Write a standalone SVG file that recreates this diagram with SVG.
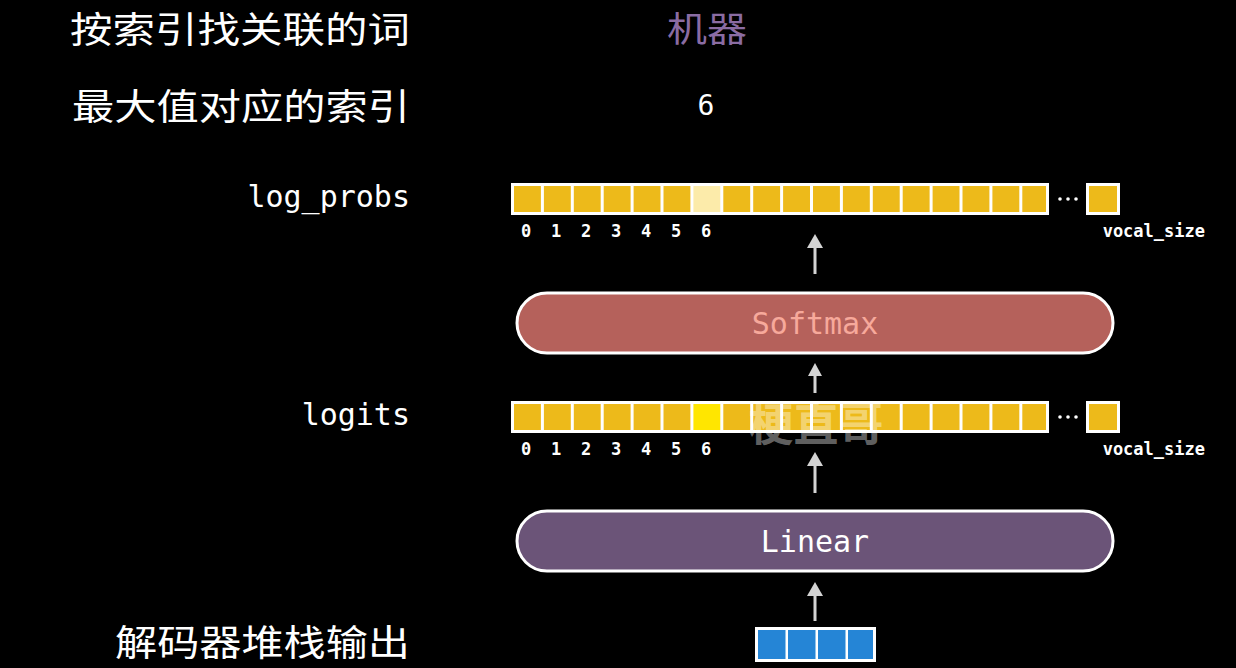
<svg xmlns="http://www.w3.org/2000/svg" width="1236" height="668" viewBox="0 0 1236 668">
<style>
.cn{font-family:"Noto Sans CJK SC","Noto Sans",sans-serif;fill:#ffffff;font-size:36px}
.mono{font-family:"DejaVu Sans Mono","Liberation Mono",monospace;fill:#ffffff}
.lbl{font-size:30px;text-anchor:end}
.dig{font-size:17px;font-weight:bold;text-anchor:middle}
.vs{font-size:17px;font-weight:bold;text-anchor:end}
.cell{fill:#EDBA1A}
.frame{fill:#ffffff}
.arrow line{stroke:#D4D4D4;stroke-width:3}
.arrow polygon{fill:#D4D4D4}
.pill{stroke:#ffffff;stroke-width:3}
.blue{fill:#2585D6}
</style>
<defs>
<g id="cells">
<rect class="frame" x="511" y="0" width="538" height="32"/>
<rect class="cell" x="514" y="3" width="26.9" height="26"/>
<rect class="cell" x="543.9" y="3" width="26.9" height="26"/>
<rect class="cell" x="573.8" y="3" width="26.9" height="26"/>
<rect class="cell" x="603.7" y="3" width="26.9" height="26"/>
<rect class="cell" x="633.6" y="3" width="26.9" height="26"/>
<rect class="cell" x="663.5" y="3" width="26.9" height="26"/>
<rect class="cell" x="723.3" y="3" width="26.9" height="26"/>
<rect class="cell" x="753.2" y="3" width="26.9" height="26"/>
<rect class="cell" x="783.1" y="3" width="26.9" height="26"/>
<rect class="cell" x="813" y="3" width="26.9" height="26"/>
<rect class="cell" x="842.9" y="3" width="26.9" height="26"/>
<rect class="cell" x="872.8" y="3" width="26.9" height="26"/>
<rect class="cell" x="902.7" y="3" width="26.9" height="26"/>
<rect class="cell" x="932.6" y="3" width="26.9" height="26"/>
<rect class="cell" x="962.5" y="3" width="26.9" height="26"/>
<rect class="cell" x="992.4" y="3" width="26.9" height="26"/>
<rect class="cell" x="1022.3" y="3" width="23.7" height="26"/>
<circle cx="1060" cy="16" r="1.8" fill="#ffffff"/>
<circle cx="1068" cy="16" r="1.8" fill="#ffffff"/>
<circle cx="1076" cy="16" r="1.8" fill="#ffffff"/>
<rect class="frame" x="1086" y="0" width="34" height="32"/>
<rect class="cell" x="1089" y="3" width="28" height="26"/>
<g class="mono">
<text class="dig" x="526" y="54">0</text>
<text class="dig" x="556" y="54">1</text>
<text class="dig" x="586" y="54">2</text>
<text class="dig" x="616" y="54">3</text>
<text class="dig" x="646" y="54">4</text>
<text class="dig" x="676" y="54">5</text>
<text class="dig" x="706" y="54">6</text>
<text class="vs" x="1205" y="54">vocal_size</text>
</g>
</g>
</defs>
<rect x="0" y="0" width="1236" height="668" fill="#000000"/>

<g id="titles">
<text class="cn" x="70" y="43" textLength="340" lengthAdjust="spacingAndGlyphs">按索引找关联的词</text>
<text class="cn" x="667" y="42" style="fill:#8A6CA3;font-size:35px" textLength="80" lengthAdjust="spacingAndGlyphs">机器</text>
<text class="cn" x="72" y="120" textLength="338" lengthAdjust="spacingAndGlyphs">最大值对应的索引</text>
<text class="mono" x="706" y="115" text-anchor="middle" style="font-size:28px">6</text>
</g>

<g id="log_probs">
<text class="mono lbl" x="410" y="207">log_probs</text>
<use href="#cells" y="183"/>
<rect x="693.4" y="186" width="26.9" height="26" fill="#FCEBAA"/>
</g>

<g id="softmax">
<rect class="pill" x="517" y="293" width="596" height="60" rx="30" fill="#B5615B"/>
<text class="mono" x="815" y="334" text-anchor="middle" style="font-size:30px;fill:#F7A99B">Softmax</text>
</g>

<g id="logits">
<text class="mono lbl" x="410" y="425">logits</text>
<use href="#cells" y="401"/>
<rect x="693.4" y="404" width="26.9" height="26" fill="#FFE600"/>
</g>

<g id="linear">
<rect class="pill" x="517" y="511" width="596" height="60" rx="30" fill="#6B5478"/>
<text class="mono" x="815" y="552" text-anchor="middle" style="font-size:30px">Linear</text>
</g>

<g id="decoder_output">
<text class="cn" x="115" y="656" textLength="295" lengthAdjust="spacingAndGlyphs">解码器堆栈输出</text>
<rect x="755" y="627" width="121" height="35" fill="#ffffff"/>
<rect class="blue" x="758" y="630" width="27.5" height="29"/>
<rect class="blue" x="788" y="630" width="27.5" height="29"/>
<rect class="blue" x="818" y="630" width="27.5" height="29"/>
<rect class="blue" x="848" y="630" width="25" height="29"/>
</g>

<g id="connectors" class="arrow">
<line x1="815" y1="274" x2="815" y2="246"/>
<polygon points="807,248 823,248 815,234"/>
<line x1="815" y1="393" x2="815" y2="374"/>
<polygon points="808,376 822,376 815,363"/>
<line x1="815" y1="493" x2="815" y2="464"/>
<polygon points="807,466 823,466 815,452"/>
<line x1="815" y1="621" x2="815" y2="594"/>
<polygon points="807,596 823,596 815,582"/>
</g>

<g id="watermark">
<text x="816" y="441" text-anchor="middle" style="font-family:'Noto Sans CJK SC',sans-serif;font-size:45px;font-weight:bold;fill:#ffffff;fill-opacity:0.4">梗直哥</text>
</g>
</svg>
